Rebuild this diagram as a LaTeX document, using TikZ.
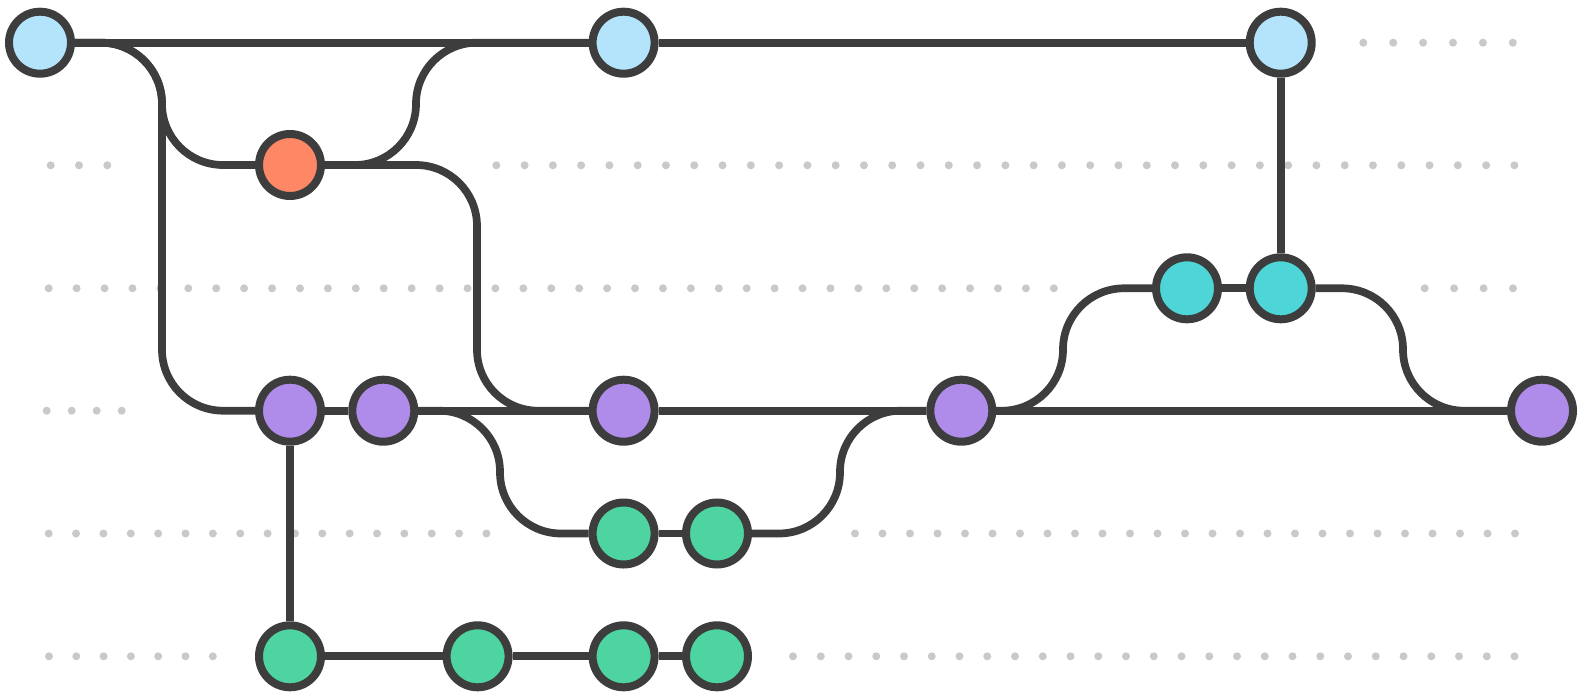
\documentclass[tikz,border=0pt]{standalone}
\usetikzlibrary{backgrounds}
\definecolor{edge}{HTML}{3D3D3D}
\definecolor{dotgray}{HTML}{C9C9C9}
\definecolor{cblue}{HTML}{B4E4FB}
\definecolor{corange}{HTML}{FE8866}
\definecolor{cpurple}{HTML}{AF8CE9}
\definecolor{cteal}{HTML}{4DD5D7}
\definecolor{cgreen}{HTML}{4DD4A0}
\begin{document}
\begin{tikzpicture}[x=0.5pt,y=-0.5pt,
  commit/.style={circle,draw=edge,line width=4pt,minimum size=31pt,inner sep=0pt},
  link/.style={draw=edge,line width=3.85pt},
  curvelink/.style={link,rounded corners=30.5pt},
  gdot/.style={fill=dotgray}]
\useasboundingbox (0,0) rectangle (1590,700);
% commits
\node[commit,fill=cblue] (b1) at (40,42.7) {};
\node[commit,fill=cblue] (b2) at (623.6,42.7) {};
\node[commit,fill=cblue] (b3) at (1280.7,42.7) {};
\node[commit,fill=corange] (o) at (290,165) {};
\node[commit,fill=cteal] (t1) at (1187,288.3) {};
\node[commit,fill=cteal] (t2) at (1280.7,288.3) {};
\node[commit,fill=cpurple] (p1) at (290,410.7) {};
\node[commit,fill=cpurple] (p2) at (383.3,410.7) {};
\node[commit,fill=cpurple] (p3) at (623.6,410.7) {};
\node[commit,fill=cpurple] (p4) at (961.3,410.7) {};
\node[commit,fill=cpurple] (p5) at (1542,410.7) {};
\node[commit,fill=cgreen] (g1) at (623.6,533.5) {};
\node[commit,fill=cgreen] (g2) at (717,533.5) {};
\node[commit,fill=cgreen] (h1) at (290,656.3) {};
\node[commit,fill=cgreen] (h2) at (477.6,656.3) {};
\node[commit,fill=cgreen] (h3) at (623.6,656.3) {};
\node[commit,fill=cgreen] (h4) at (717,656.3) {};
\begin{pgfonlayer}{background}
% dotted guide rows
\foreach \i in {0,...,5}  \fill[gdot] ({1363.3+\i*29.9},42.7) circle (2pt);
\foreach \i in {0,...,2}  \fill[gdot] ({50.7+\i*28.3},165.3) circle (2pt);
\foreach \i in {0,...,36} \fill[gdot] ({496.3+\i*28.28},165.3) circle (2pt);
\foreach \i in {0,...,36} \fill[gdot] ({48.7+\i*27.92},288.3) circle (2pt);
\foreach \i in {0,...,3}  \fill[gdot] ({1424.7+\i*29.43},288.3) circle (2pt);
\foreach \i in {0,...,3}  \fill[gdot] ({46.7+\i*25},410.7) circle (2pt);
\foreach \i in {0,...,16} \fill[gdot] ({48.7+\i*27.36},533.5) circle (2pt);
\foreach \i in {0,...,24} \fill[gdot] ({855+\i*27.5},533.5) circle (2pt);
\foreach \i in {0,...,6}  \fill[gdot] ({49+\i*27.3},656.3) circle (2pt);
\foreach \i in {0,...,26} \fill[gdot] ({793+\i*27.75},656.3) circle (2pt);
% connectors
\draw[link] (b1) -- (b2);
\draw[link] (b2) -- (b3);
\draw[curvelink] (b1) -- (162,42.7) -- (162,165) -- (o);
\draw[curvelink] (b1) -- (162,42.7) -- (162,410.7) -- (p1);
\draw[curvelink] (o) -- (416,165) -- (416,42.7) -- (b2);
\draw[curvelink] (o) -- (477,165) -- (477,410.7) -- (p3);
\draw[link] (p1) -- (p2);
\draw[link] (p2) -- (p3);
\draw[link] (p3) -- (p4);
\draw[link] (p4) -- (p5);
\draw[curvelink] (p2) -- (500,410.7) -- (500,533.5) -- (g1);
\draw[link] (g1) -- (g2);
\draw[curvelink] (g2) -- (840,533.5) -- (840,410.7) -- (p4);
\draw[curvelink] (p4) -- (1063,410.7) -- (1063,288.3) -- (t1);
\draw[link] (t1) -- (t2);
\draw[curvelink] (t2) -- (1403,288.3) -- (1403,410.7) -- (p5);
\draw[link] (b3) -- (t2);
\draw[link] (p1) -- (h1);
\draw[link] (h1) -- (h2);
\draw[link] (h2) -- (h3);
\draw[link] (h3) -- (h4);
\end{pgfonlayer}
\end{tikzpicture}
\end{document}
